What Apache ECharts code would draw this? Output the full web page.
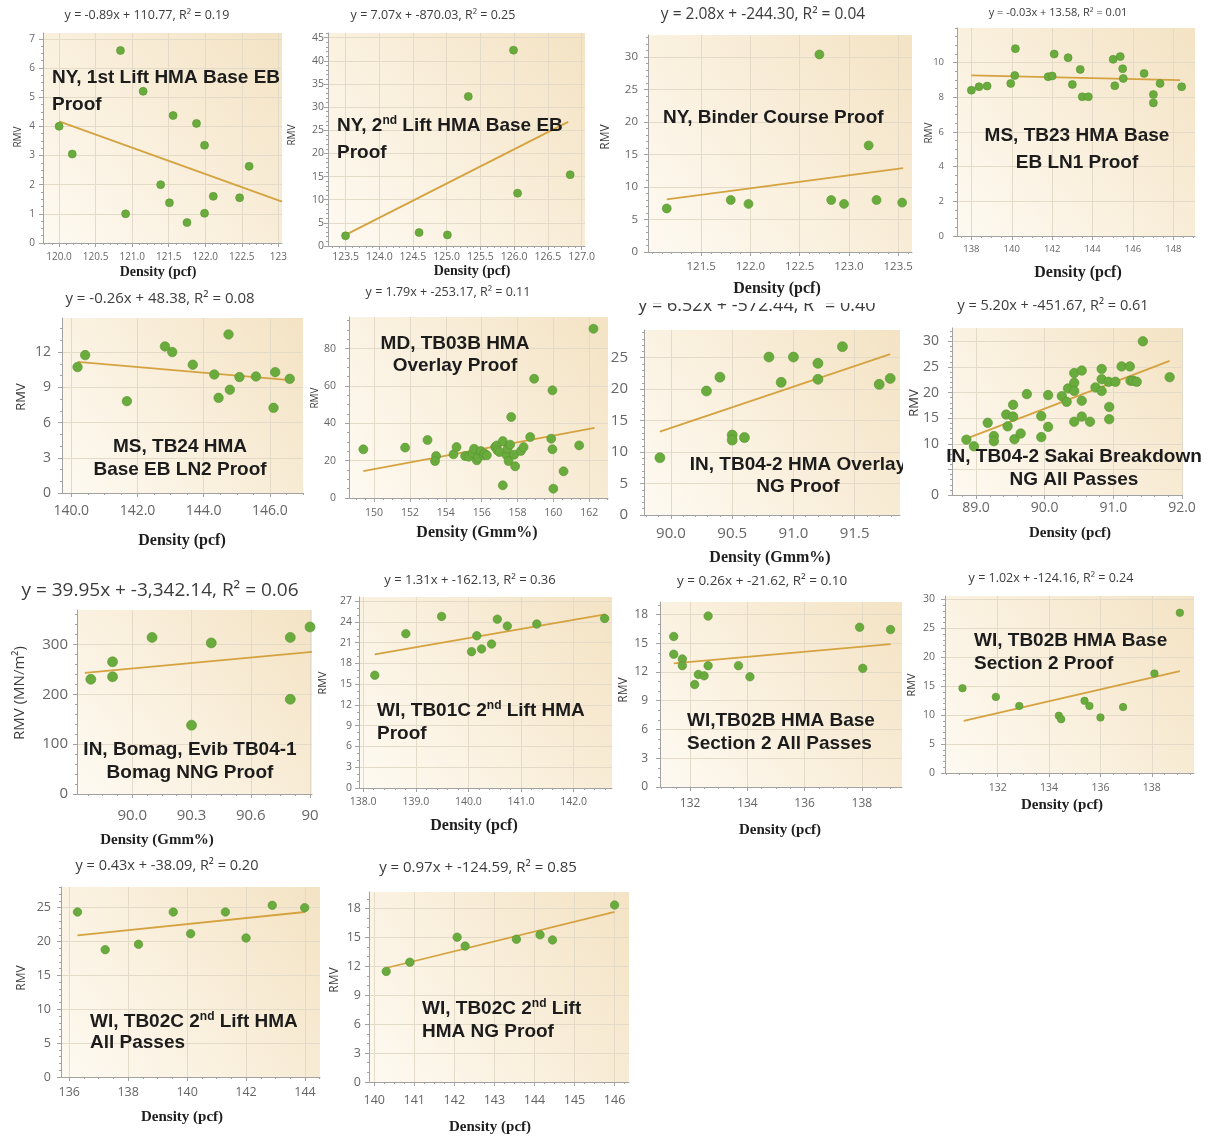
<!DOCTYPE html>
<html><head><meta charset="utf-8">
<script src="https://cdn.jsdelivr.net/npm/echarts@6/dist/echarts.min.js"></script>
<style>html,body{margin:0;padding:0;background:#fff}#c{width:1216px;height:1139px}</style>
</head><body><div id="c"></div><script>
// ---------------- DATA ----------------
// Panel 1
const p1Density = [120.0,120.18,120.84,120.91,121.15,121.39,121.51,121.56,121.75,121.88,121.99,121.99,122.11,122.47,122.60];
const p1Rmv     = [4.0,3.05,6.6,1.0,5.2,2.0,1.38,4.37,0.7,4.1,3.35,1.02,1.6,1.55,2.63];
const p1Trend   = [[120.0,4.17],[123.05,1.42]];
const p1XTicks  = [120,120.5,121,121.5,122,122.5,123];
const p1XLabels = ['120.0','120.5','121.0','121.5','122.0','122.5','123'];
const p1YTicks  = [0,1,2,3,4,5,6,7];
const p1YLabels = ['0','1','2','3','4','5','6','7'];
// Panel 2
const p2Density = [123.5,124.59,125.01,125.32,125.99,126.05,126.83];
const p2Rmv     = [2.2,2.9,2.4,32.3,42.3,11.4,15.4];
const p2Trend   = [[123.5,2.4],[126.8,26.8]];
const p2XTicks  = [123.5,124,124.5,125,125.5,126,126.5,127];
const p2XLabels = ['123.5','124.0','124.5','125.0','125.5','126.0','126.5','127.0'];
const p2YTicks  = [0,5,10,15,20,25,30,35,40,45];
const p2YLabels = ['0','5','10','15','20','25','30','35','40','45'];
// Panel 3
const p3Density = [121.15,121.8,121.98,122.7,122.82,122.95,123.2,123.28,123.54];
const p3Rmv     = [6.7,8.0,7.4,30.4,8.0,7.4,16.4,8.0,7.6];
const p3Trend   = [[121.15,8.1],[123.55,12.9]];
const p3XTicks  = [121.5,122,122.5,123,123.5];
const p3XLabels = ['121.5','122.0','122.5','123.0','123.5'];
const p3YTicks  = [0,5,10,15,20,25,30];
const p3YLabels = ['0','5','10','15','20','25','30'];
// Panel 4
const p4Density = [138.0,138.38,138.78,139.95,140.18,140.15,141.8,142.0,142.1,142.79,143.0,143.39,143.49,143.79,145.02,145.1,145.37,145.49,145.52,146.55,147.01,147.01,147.34,148.41];
const p4Rmv     = [8.41,8.61,8.65,8.8,10.81,9.26,9.19,9.23,10.5,10.29,8.74,9.61,8.03,8.03,10.19,8.67,10.35,9.65,9.09,9.38,8.16,7.68,8.8,8.61];
const p4Trend   = [[138.0,9.27],[148.33,8.99]];
const p4XTicks  = [138,140,142,144,146,148];
const p4XLabels = ['138','140','142','144','146','148'];
const p4YTicks  = [0,2,4,6,8,10];
const p4YLabels = ['0','2','4','6','8','10'];
// Panel 5
const p5Density = [140.19,140.42,141.68,142.83,143.05,143.67,144.32,144.45,144.75,144.79,145.08,145.58,146.16,146.11,146.60];
const p5Rmv     = [10.72,11.74,7.82,12.48,12.0,10.92,10.09,8.1,13.5,8.79,9.87,9.92,10.29,7.25,9.72];
const p5Trend   = [[140.19,11.17],[146.6,9.61]];
const p5XTicks  = [140,142,144,146];
const p5XLabels = ['140.0','142.0','144.0','146.0'];
const p5YTicks  = [0,3,6,9,12];
const p5YLabels = ['0','3','6','9','12'];
// Panel 6
const p6Density = [149.4,151.73,152.98,153.46,153.4,154.43,154.6,155.08,155.28,155.5,155.58,155.73,155.8,155.95,156.1,156.16,156.29,156.75,156.85,156.88,157.0,157.18,157.18,157.4,157.44,157.5,157.59,157.65,157.81,157.87,158.19,158.34,158.71,158.93,159.88,159.95,159.95,160.0,160.57,161.44,162.24];
const p6Rmv     = [26.1,27.0,31.1,22.5,19.8,23.4,27.3,22.5,22.1,24.1,26.4,20.2,21.6,25.2,22.9,23.8,22.9,27.3,28.2,25.5,24.6,30.5,6.8,22.9,26.4,19.8,28.6,43.4,23.2,17.0,25.2,27.3,32.7,63.9,31.8,26.1,57.7,5.0,14.3,28.2,90.7];
const p6Trend   = [[149.4,14.4],[162.3,37.6]];
const p6XTicks  = [150,152,154,156,158,160,162];
const p6XLabels = ['150','152','154','156','158','160','162'];
const p6YTicks  = [0,20,40,60,80];
const p6YLabels = ['0','20','40','60','80'];
// Panel 7
const p7Density = [89.91,90.29,90.4,90.5,90.5,90.6,90.8,90.9,91.0,91.2,91.2,91.4,91.7,91.79];
const p7Rmv     = [9.11,19.7,21.9,12.7,11.9,12.3,25.1,21.08,25.1,24.1,21.56,26.75,20.76,21.7];
const p7Trend   = [[89.91,13.24],[91.79,25.58]];
const p7XTicks  = [90,90.5,91,91.5];
const p7XLabels = ['90.0','90.5','91.0','91.5'];
const p7YTicks  = [0,5,10,15,20,25];
const p7YLabels = ['0','5','10','15','20','25'];
// Panel 8
const p8Density = [88.86,88.97,89.17,89.26,89.26,89.44,89.46,89.54,89.54,89.56,89.65,89.74,89.95,89.95,90.05,90.05,90.25,90.32,90.34,90.43,90.43,90.43,90.43,90.54,90.54,90.54,90.66,90.74,90.83,90.83,90.83,90.93,90.94,90.94,91.03,91.12,91.24,91.25,91.29,91.34,91.43,91.82];
const p8Rmv     = [10.8,9.5,14.1,11.5,10.5,15.7,13.4,17.6,15.3,10.9,12.0,19.7,15.4,11.3,19.5,13.3,19.3,18.2,20.8,23.8,21.9,20.3,14.3,24.3,18.4,15.3,14.3,21.0,24.6,22.6,20.3,22.1,17.2,14.8,22.1,25.1,25.1,22.3,22.3,22.1,30.0,23.0];
const p8Trend   = [[88.86,11.0],[91.82,26.2]];
const p8XTicks  = [89,90,91,92];
const p8XLabels = ['89.0','90.0','91.0','92.0'];
const p8YTicks  = [0,5,10,15,20,25,30];
const p8YLabels = ['0','5','10','15','20','25','30'];
// Panel 9
const p9Density = [89.79,89.9,89.9,90.1,90.3,90.4,90.8,90.8,90.9];
const p9Rmv     = [230,265,235,314,138,303,314,190,335];
const p9Trend   = [[89.76,243],[90.91,285]];
const p9XTicks  = [90.0,90.3,90.6,90.9];
const p9XLabels = ['90.0','90.3','90.6','90'];
const p9YTicks  = [0,100,200,300];
const p9YLabels = ['0','100','200','300'];
// Panel 10
const p10Density = [138.22,138.81,139.49,140.06,140.16,140.25,140.44,140.55,140.74,141.3,142.59];
const p10Rmv     = [16.3,22.3,24.8,19.7,22.0,20.1,20.8,24.4,23.4,23.7,24.5];
const p10Trend   = [[138.22,19.3],[142.6,25.1]];
const p10XTicks  = [138,139,140,141,142];
const p10XLabels = ['138.0','139.0','140.0','141.0','142.0'];
const p10YTicks  = [0,3,6,9,12,15,18,21,24,27];
const p10YLabels = ['0','3','6','9','12','15','18','21','24','27'];
// Panel 11
const p11Density = [131.43,131.43,131.73,131.73,132.16,132.29,132.49,132.63,132.63,133.69,134.09,137.92,138.03,139.0];
const p11Rmv     = [15.7,13.85,13.36,12.66,10.69,11.74,11.6,17.83,12.66,12.66,11.5,16.67,12.38,16.42];
const p11Trend   = [[131.43,12.9],[139.0,14.9]];
const p11XTicks  = [132,134,136,138];
const p11XLabels = ['132','134','136','138'];
const p11YTicks  = [0,3,6,9,12,15,18];
const p11YLabels = ['0','3','6','9','12','15','18'];
// Panel 12
const p12Density = [130.63,131.93,132.84,134.38,134.47,135.38,135.57,136.0,136.88,138.1,139.09];
const p12Rmv     = [14.66,13.16,11.6,9.9,9.3,12.47,11.6,9.6,11.4,17.2,27.7];
const p12Trend   = [[130.68,9.0],[139.09,17.6]];
const p12XTicks  = [132,134,136,138];
const p12XLabels = ['132','134','136','138'];
const p12YTicks  = [0,5,10,15,20,25,30];
const p12YLabels = ['0','5','10','15','20','25','30'];
// Panel 13
const p13Density = [136.28,137.22,138.35,139.53,140.12,141.3,142.0,142.89,143.99];
const p13Rmv     = [24.36,18.8,19.59,24.36,21.16,24.36,20.52,25.34,25.0];
const p13Trend   = [[136.28,20.9],[144.0,24.36]];
const p13XTicks  = [136,138,140,142,144];
const p13XLabels = ['136','138','140','142','144'];
const p13YTicks  = [0,5,10,15,20,25];
const p13YLabels = ['0','5','10','15','20','25'];
// Panel 14
const p14Density = [140.3,140.89,142.07,142.27,143.55,144.14,144.45,146.0];
const p14Rmv     = [11.47,12.42,15.02,14.09,14.8,15.26,14.73,18.35];
const p14Trend   = [[140.3,11.82],[146.0,17.64]];
const p14XTicks  = [140,141,142,143,144,145,146];
const p14XLabels = ['140','141','142','143','144','145','146'];
const p14YTicks  = [0,3,6,9,12,15,18];
const p14YLabels = ['0','3','6','9','12','15','18'];

// Texts
const equations = [
 'y = -0.89x + 110.77, R² = 0.19','y = 7.07x + -870.03, R² = 0.25','y = 2.08x + -244.30, R² = 0.04','y = -0.03x + 13.58, R² = 0.01',
 'y = -0.26x + 48.38, R² = 0.08','y = 1.79x + -253.17, R² = 0.11','y = 6.52x + -572.44, R² = 0.40','y = 5.20x + -451.67, R² = 0.61',
 'y = 39.95x + -3,342.14, R² = 0.06','y = 1.31x + -162.13, R² = 0.36','y = 0.26x + -21.62, R² = 0.10','y = 1.02x + -124.16, R² = 0.24',
 'y = 0.43x + -38.09, R² = 0.20','y = 0.97x + -124.59, R² = 0.85'];
const titles = [
 ['NY, 1st Lift HMA Base EB','Proof'], ['NY, 2{sup|nd} Lift HMA Base EB','Proof'], ['NY, Binder Course Proof'], ['MS, TB23 HMA Base','EB LN1 Proof'],
 ['MS, TB24 HMA','Base EB LN2 Proof'], ['MD, TB03B HMA','Overlay Proof'], ['IN, TB04-2 HMA Overlay','NG Proof'], ['IN, TB04-2 Sakai Breakdown','NG All Passes'],
 ['IN, Bomag, Evib TB04-1','Bomag NNG Proof'], ['WI, TB01C 2{sup|nd} Lift HMA','Proof'], ['WI,TB02B HMA Base','Section 2 All Passes'], ['WI, TB02B HMA Base','Section 2 Proof'],
 ['WI, TB02C 2{sup|nd} Lift HMA','All Passes'], ['WI, TB02C 2{sup|nd} Lift','HMA NG Proof']];
const xNames = ['Density (pcf)','Density (pcf)','Density (pcf)','Density (pcf)','Density (pcf)','Density (Gmm%)','Density (Gmm%)','Density (pcf)',
 'Density (Gmm%)','Density (pcf)','Density (pcf)','Density (pcf)','Density (pcf)','Density (pcf)'];
const yNames = ['RMV','RMV','RMV','RMV','RMV','RMV','','RMV','RMV (MN/m²)','RMV','RMV','RMV','RMV','RMV'];

// ---------------- LAYOUT ----------------
const P = [
 [p1Density,p1Rmv,p1Trend,p1XTicks,p1XLabels,p1YTicks,p1YLabels],
 [p2Density,p2Rmv,p2Trend,p2XTicks,p2XLabels,p2YTicks,p2YLabels],
 [p3Density,p3Rmv,p3Trend,p3XTicks,p3XLabels,p3YTicks,p3YLabels],
 [p4Density,p4Rmv,p4Trend,p4XTicks,p4XLabels,p4YTicks,p4YLabels],
 [p5Density,p5Rmv,p5Trend,p5XTicks,p5XLabels,p5YTicks,p5YLabels],
 [p6Density,p6Rmv,p6Trend,p6XTicks,p6XLabels,p6YTicks,p6YLabels],
 [p7Density,p7Rmv,p7Trend,p7XTicks,p7XLabels,p7YTicks,p7YLabels],
 [p8Density,p8Rmv,p8Trend,p8XTicks,p8XLabels,p8YTicks,p8YLabels],
 [p9Density,p9Rmv,p9Trend,p9XTicks,p9XLabels,p9YTicks,p9YLabels],
 [p10Density,p10Rmv,p10Trend,p10XTicks,p10XLabels,p10YTicks,p10YLabels],
 [p11Density,p11Rmv,p11Trend,p11XTicks,p11XLabels,p11YTicks,p11YLabels],
 [p12Density,p12Rmv,p12Trend,p12XTicks,p12XLabels,p12YTicks,p12YLabels],
 [p13Density,p13Rmv,p13Trend,p13XTicks,p13XLabels,p13YTicks,p13YLabels],
 [p14Density,p14Rmv,p14Trend,p14XTicks,p14XLabels,p14YTicks,p14YLabels]
];
// g: grid [l,t,w,h]; x/y: [min,max,minorStep]; fs: tick font; xm/ym: label margins; s: symbol size
// eq: [cx,cy,fs]; yn: [x,y,fs]; xn: [cx,cy,fs]; t: [align, x, y1, y2]
const L = [
 {g:[43,33,239,210], x:[119.78,123.05,0.1], y:[0,7.2,0.25], fs:10, xm:9, ym:8, s:8, eq:[147,15,12.5], yn:[18,137,10], xn:[158,272,14], t:['left',52,78,105]},
 {g:[328,33,257,213], x:[123.24,127.05,0.1], y:[0,46,1], fs:10.5, xm:6, ym:4, s:8, eq:[433,15,12.5], yn:[292,135,10], xn:[472,271,14], t:['left',337,126,153]},
 {g:[648,35,264,217], x:[120.96,123.64,0.1], y:[0,33.4,1], fs:11.5, xm:9, ym:10, s:9, eq:[763,15,15.5], yn:[606,137,12], xn:[777,289,16], t:['left',663,118]},
 {g:[957,28,238,208], x:[137.29,149.07,0.5], y:[0,12,0.5], fs:9.5, xm:8, ym:13, s:8, eq:[1058,13,11], yn:[929,133,10], xn:[1078,273,16], t:['center',1077,136,163]},
 {g:[62,318,241,175], x:[139.72,147.0,0.5], y:[0,14.9,1], fs:14, xm:11, ym:11, s:9.5, eq:[160,299,15], yn:[21,397,13], xn:[182,541,16], t:['center',180,447,470]},
 {g:[349,317,259,181], x:[148.6,163.05,0.5], y:[0,97,5], fs:10.5, xm:10, ym:13, s:9, eq:[448,292,12.5], yn:[315,398,10], xn:[477,533,16], t:['center',455,344,366]},
 {g:[644,330,256,185], x:[89.78,91.87,0.1], y:[0,29.4,1], fs:15, xm:11, ym:16, s:10, eq:[757,306,18], yn:null, xn:[770,558,16], t:['center',798,465,487]},
 {g:[952,328,230,167], x:[88.65,92.0,0.2], y:[0,32.6,1], fs:14, xm:6, ym:13, s:9.5, eq:[1053,306,14.5], yn:[914,403,13], xn:[1070,533,15], t:['center',1074,457,480]},
 {g:[77,610,235,184], x:[89.72,90.91,0.075], y:[0,369,20], fs:15, xm:14, ym:9, s:10, eq:[160,591,19], yn:[20,693,15], xn:[157,840,15], t:['center',190,750,773]},
 {g:[359,597,253,191], x:[137.92,142.73,0.2], y:[0,27.6,1], fs:10.5, xm:9, ym:7, s:8.5, eq:[470,580,13], yn:[323,683,11], xn:[474,826,16], t:['left',377,711,734]},
 {g:[660,602,242,185], x:[130.95,139.4,0.5], y:[0,19.3,1], fs:12, xm:11, ym:12, s:8.5, eq:[762,581,13.5], yn:[624,690,12], xn:[780,830,15], t:['left',687,721,744]},
 {g:[945,596,249,177], x:[129.95,139.64,0.5], y:[0,30.6,1], fs:10.5, xm:10, ym:10, s:7.5, eq:[1051,578,12.5], yn:[912,685,11], xn:[1062,805,15], t:['left',974,641,664]},
 {g:[61,887,259,190], x:[135.72,144.51,0.5], y:[0,28.05,1], fs:12.5, xm:9, ym:10, s:8.5, eq:[167,866,14.5], yn:[22,978,12], xn:[182,1117,15], t:['left',90,1022,1043]},
 {g:[369,892,260,190], x:[139.87,146.36,0.25], y:[0,19.7,1], fs:12.5, xm:12, ym:8, s:8.5, eq:[478,868,15], yn:[335,980,12], xn:[490,1127,15], t:['left',422,1009,1032]}
];

const SANS = "'Open Sans', 'DejaVu Sans', sans-serif";
const ARIAL = "'Liberation Sans', Arial, sans-serif";
const SERIF = "'Liberation Serif', 'Times New Roman', serif";
const axisColor = '#a2a2a2', labelColor = '#666666', splitColor = '#e4dac8';
const ptColor = '#6aab3d', ptBorder = '#58932f', trendColor = '#d5a240';
const bg = {type:'linear', x:0, y:1, x2:1, y2:0, colorStops:[{offset:0,color:'#fefaf2'},{offset:1,color:'#f4e3c4'}]};

function minorVals(min, max, step, majors) {
  const out = [];
  for (let k = Math.ceil(min / step - 1e-9); k * step <= max + 1e-9; k++) {
    const v = +(k * step).toFixed(6);
    if (!majors.some(m => Math.abs(m - v) < 1e-6)) out.push(v);
  }
  return out;
}
function fmt(ticks, labels) {
  return v => { const k = ticks.findIndex(t => Math.abs(t - v) < 1e-6); return k >= 0 ? labels[k] : ''; };
}

const grids = [], xAxes = [], yAxes = [], series = [], graphics = [];
P.forEach((p, i) => {
  const [dens, rmv, trend, xt, xl, yt, yl] = p;
  const c = L[i];
  grids.push({left:c.g[0], top:c.g[1], width:c.g[2], height:c.g[3], show:true, borderWidth:0,
    backgroundColor:bg, containLabel:false, outerBoundsMode:'none'});
  const common = {type:'value', gridIndex:i, scale:true};
  xAxes.push(Object.assign({}, common, {position:'bottom', min:c.x[0], max:c.x[1],
    axisLine:{show:true, onZero:false, lineStyle:{color:axisColor}},
    axisTick:{show:true, customValues:xt, length:4, lineStyle:{color:axisColor}},
    axisLabel:{show:true, customValues:xt, formatter:fmt(xt, xl), fontSize:c.fs, color:labelColor, fontFamily:SANS, margin:c.xm, hideOverlap:false},
    splitLine:{show:true, lineStyle:{color:splitColor, width:1}}}));
  xAxes.push(Object.assign({}, common, {position:'bottom', min:c.x[0], max:c.x[1],
    axisLine:{show:false}, axisTick:{show:true, customValues:minorVals(c.x[0], c.x[1], c.x[2], xt), length:2, lineStyle:{color:axisColor}},
    axisLabel:{show:false}, splitLine:{show:false}}));
  yAxes.push(Object.assign({}, common, {position:'left', min:c.y[0], max:c.y[1],
    axisLine:{show:true, onZero:false, lineStyle:{color:axisColor}},
    axisTick:{show:true, customValues:yt, length:4, lineStyle:{color:axisColor}},
    axisLabel:{show:true, customValues:yt, formatter:fmt(yt, yl), fontSize:c.fs, color:labelColor, fontFamily:SANS, margin:c.ym, hideOverlap:false},
    splitLine:{show:true, lineStyle:{color:splitColor, width:1}}}));
  yAxes.push(Object.assign({}, common, {position:'left', min:c.y[0], max:c.y[1],
    axisLine:{show:false}, axisTick:{show:true, customValues:minorVals(c.y[0], c.y[1], c.y[2], yt), length:2, lineStyle:{color:axisColor}},
    axisLabel:{show:false}, splitLine:{show:false}}));
  series.push({type:'line', xAxisIndex:2*i, yAxisIndex:2*i, data:trend, symbol:'none', showSymbol:false,
    lineStyle:{color:trendColor, width:1.8}, z:2, silent:true});
  series.push({type:'scatter', xAxisIndex:2*i, yAxisIndex:2*i, data:dens.map((d, k) => [d, rmv[k]]),
    symbolSize:c.s, itemStyle:{color:ptColor, borderColor:ptBorder, borderWidth:0.6, opacity:1}, z:3, silent:true});

  // equation
  graphics.push({type:'text', x:c.eq[0], y:c.eq[1], z:(i === 6 ? 6 : 10), silent:true,
    style:{text:equations[i], fontSize:c.eq[2], fontFamily:SANS, fill:'#3c3c3c', align:'center', verticalAlign:'middle'}});
  // y name
  if (c.yn && yNames[i]) graphics.push({type:'text', x:c.yn[0], y:c.yn[1], rotation:Math.PI/2, z:10, silent:true,
    style:{text:yNames[i], fontSize:c.yn[2], fontFamily:SANS, fill:'#3c3c3c', align:'center', verticalAlign:'middle'}});
  // x name
  graphics.push({type:'text', x:c.xn[0], y:c.xn[1], z:10, silent:true,
    style:{text:xNames[i], fontSize:c.xn[2], fontFamily:SERIF, fontWeight:'bold', fill:'#1e1e1e', align:'center', verticalAlign:'middle'}});
  // titles
  titles[i].forEach((line, k) => {
    graphics.push({type:'text', x:c.t[1], y:c.t[2 + k], z:(i === 6 ? 6 : 10), silent:true,
      style:{text:line, fontSize:19, fontFamily:ARIAL, fontWeight:'bold', fill:'#1c1c1c', align:c.t[0], verticalAlign:'middle', lineHeight:22,
        rich:{sup:{fontSize:12, fontFamily:ARIAL, fontWeight:'bold', fill:'#1c1c1c', verticalAlign:'top', lineHeight:12}}}});
  });
});
// white masks that mimic the cropped edges of the source images
graphics.push({type:'rect', shape:{x:903, y:450, width:42, height:28}, style:{fill:'#ffffff'}, z:8, silent:true});
graphics.push({type:'rect', shape:{x:612, y:284, width:292, height:19}, style:{fill:'#ffffff'}, z:8, silent:true});

const chart = echarts.init(document.getElementById('c'), null, {renderer:'canvas'});
chart.setOption({animation:false, backgroundColor:'#ffffff', grid:grids, xAxis:xAxes, yAxis:yAxes, series:series, graphic:graphics});
</script></body></html>
